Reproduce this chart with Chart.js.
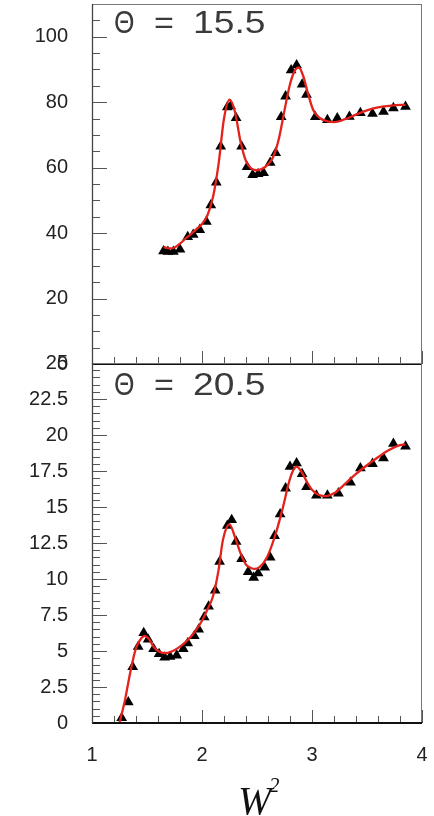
<!DOCTYPE html>
<html>
<head>
<meta charset="utf-8">
<script src="https://cdn.jsdelivr.net/npm/chart.js@4/dist/chart.umd.min.js"></script>
<style>
  html, body { margin: 0; padding: 0; background: #fff; }
  #wrap { position: relative; width: 434px; height: 816px; }
  #wrap canvas { position: absolute; left: 0; top: 0; }
</style>
</head>
<body>
<div id="wrap">
  <canvas id="panelTop" width="434" height="816"></canvas>
  <canvas id="panelBottom" width="434" height="816"></canvas>
</div>
<script>
// Theta = 15.5 : measured points
const w2Top = [1.65, 1.69, 1.74, 1.80, 1.87, 1.92, 1.98, 2.04, 2.08, 2.13, 2.17, 2.23, 2.26, 2.31, 2.36, 2.41, 2.46, 2.51, 2.56, 2.62, 2.67, 2.72, 2.76, 2.81, 2.86, 2.91, 2.95, 3.03, 3.14, 3.23, 3.34, 3.44, 3.55, 3.65, 3.74, 3.85];
const sigmaTop = [34.5, 34.3, 34.3, 35.0, 38.8, 39.5, 41.0, 43.5, 48.5, 55.5, 66.5, 78.5, 78.8, 75.2, 66.5, 60.2, 57.8, 58.1, 58.4, 61.5, 64.5, 75.5, 81.8, 89.8, 91.3, 85.4, 82.3, 75.5, 74.6, 75.1, 75.6, 76.7, 76.5, 77.1, 78.2, 78.6];
// Theta = 15.5 : fit curve
const fitW2Top = [1.65, 1.70, 1.75, 1.80, 1.85, 1.90, 1.95, 2.00, 2.05, 2.10, 2.15, 2.20, 2.25, 2.30, 2.35, 2.40, 2.45, 2.50, 2.55, 2.60, 2.65, 2.70, 2.75, 2.80, 2.85, 2.88, 2.92, 2.96, 3.01, 3.05, 3.10, 3.20, 3.30, 3.40, 3.50, 3.60, 3.70, 3.80, 3.85];
const fitTop = [35.8, 35.3, 35.6, 36.8, 38.3, 39.7, 41.2, 42.8, 45.5, 51.0, 61.0, 75.0, 80.8, 77.0, 68.0, 62.0, 59.7, 59.2, 59.7, 61.0, 63.5, 69.0, 77.5, 85.5, 90.0, 90.6, 88.0, 83.0, 77.7, 75.8, 74.6, 73.9, 74.8, 76.2, 77.5, 78.4, 78.9, 79.2, 79.2];

// Theta = 20.5 : measured points
const w2Bottom = [1.27, 1.33, 1.37, 1.42, 1.47, 1.51, 1.56, 1.61, 1.66, 1.71, 1.77, 1.83, 1.87, 1.93, 1.97, 2.02, 2.06, 2.12, 2.16, 2.23, 2.27, 2.31, 2.36, 2.42, 2.47, 2.51, 2.57, 2.62, 2.66, 2.71, 2.76, 2.80, 2.86, 2.91, 2.95, 3.04, 3.14, 3.24, 3.35, 3.44, 3.55, 3.65, 3.74, 3.85];
const sigmaBottom = [0.35, 1.45, 3.9, 5.3, 6.25, 5.8, 5.15, 4.8, 4.55, 4.6, 4.7, 5.15, 5.55, 6.05, 6.5, 7.35, 8.1, 9.2, 11.2, 13.7, 14.1, 12.6, 11.4, 10.5, 10.1, 10.4, 10.8, 11.5, 13.0, 14.5, 16.3, 17.8, 18.05, 17.3, 16.4, 15.8, 15.8, 15.95, 16.7, 17.7, 18.0, 18.4, 19.4, 19.2];
// Theta = 20.5 : fit curve
const fitW2Bottom = [1.25, 1.30, 1.35, 1.40, 1.45, 1.48, 1.52, 1.56, 1.60, 1.66, 1.72, 1.78, 1.84, 1.90, 1.95, 2.00, 2.05, 2.10, 2.15, 2.19, 2.25, 2.30, 2.35, 2.40, 2.45, 2.48, 2.52, 2.59, 2.66, 2.73, 2.79, 2.82, 2.86, 2.90, 2.95, 3.00, 3.06, 3.13, 3.20, 3.30, 3.40, 3.50, 3.60, 3.70, 3.80, 3.85];
const fitBottom = [0.0, 1.6, 3.6, 5.2, 5.9, 6.05, 5.8, 5.3, 5.0, 4.85, 4.95, 5.2, 5.55, 6.0, 6.5, 7.1, 7.9, 8.8, 10.6, 12.7, 13.8, 12.9, 11.8, 11.0, 10.75, 10.7, 10.8, 11.5, 12.9, 14.8, 16.7, 17.4, 17.8, 17.5, 16.8, 16.2, 15.85, 15.75, 15.95, 16.6, 17.3, 17.9, 18.45, 18.95, 19.3, 19.35];

// axis tick labels
const xTickLabels = [1, 2, 3, 4];
const yTicksTop = [0, 20, 40, 60, 80, 100];
const yTicksBottom = [0, 2.5, 5, 7.5, 10, 12.5, 15, 17.5, 20, 22.5, 25];

const panelLabels = ['\u0398 = 15.5', '\u0398 = 20.5'];
const xTitle = ['W', '2'];

const PAGE_H = 816;
const PLOT_LEFT = 92;
const PLOT_RIGHT = 422;
const TOP_Y0 = 4;
const SPLIT_Y = 364;
const BOTTOM_Y1 = 723;
const LABEL_FONT = { family: '"Liberation Sans", Arial, sans-serif', size: 20 };

const pts = (xs, ys) => xs.map((x, i) => ({ x, y: ys[i] }));

function range(a, b, step) {
  const out = [];
  const n = Math.round((b - a) / step);
  for (let i = 0; i <= n; i++) out.push(+(a + i * step).toFixed(4));
  return out;
}

// keep the plot frame where the layout padding puts it
function noLabelOverflow(s) {
  s.paddingTop = 0;
  s.paddingBottom = 0;
  s.paddingLeft = 0;
  s.paddingRight = 0;
}

// frame, inward ticks and in-plot labels
function framePlugin(cfg) {
  return {
    id: 'frame_' + cfg.name,
    afterDraw(chart) {
      const { ctx, chartArea: a, scales } = chart;
      const xs = scales.x, ys = scales.y;
      ctx.save();
      // tick marks on the left axis
      ctx.strokeStyle = '#555';
      ctx.lineWidth = 1;
      ctx.beginPath();
      range(ys.min, ys.max, cfg.yMinor).forEach(v => {
        const y = Math.round(ys.getPixelForValue(v)) + 0.5;
        const major = Math.abs(v / cfg.yMajor - Math.round(v / cfg.yMajor)) < 1e-6;
        ctx.moveTo(a.left, y);
        ctx.lineTo(a.left + (major ? 15 : 8), y);
      });
      // tick marks on the bottom edge
      range(1, 4, 0.2).forEach(v => {
        const x = Math.round(xs.getPixelForValue(v)) + 0.5;
        const major = Math.abs(v - Math.round(v)) < 1e-6;
        ctx.moveTo(x, a.bottom);
        ctx.lineTo(x, a.bottom - (major ? 13 : 7));
      });
      ctx.stroke();

      // frame
      ctx.strokeStyle = '#777';
      ctx.lineWidth = 1;
      ctx.strokeRect(a.left + 0.5, a.top + 0.5, a.right - a.left - 1, a.bottom - a.top - 1);
      ctx.strokeStyle = '#111';
      ctx.lineWidth = 2;
      ctx.beginPath();
      ctx.moveTo(a.left, a.bottom);
      ctx.lineTo(a.right, a.bottom);
      ctx.stroke();
      ctx.strokeStyle = '#444';
      ctx.lineWidth = 1.3;
      ctx.beginPath();
      ctx.moveTo(a.left + 0.5, a.top);
      ctx.lineTo(a.left + 0.5, a.bottom);
      ctx.stroke();

      // panel label
      ctx.fillStyle = '#3a3a3a';
      ctx.textBaseline = 'alphabetic';
      ctx.textAlign = 'left';
      const base = a.top + cfg.labelDy;
      const parts = cfg.label.split(' ');
      ctx.font = '31px "Liberation Sans", Arial, sans-serif';
      ctx.save();
      ctx.translate(a.left + 22, base);
      ctx.scale(0.85, 1);
      ctx.fillText(parts[0], 0, 0);
      ctx.restore();
      ctx.save();
      ctx.translate(a.left + 62, base);
      ctx.scale(1.1, 1);
      ctx.fillText(parts[1], 0, 0);
      ctx.restore();
      ctx.save();
      ctx.translate(a.left + 101, base);
      ctx.scale(1.2, 1);
      ctx.fillText(parts[2], 0, 0);
      ctx.restore();

      if (cfg.title) {
        ctx.fillStyle = '#111';
        ctx.font = 'italic 40px "Liberation Serif", "Times New Roman", serif';
        ctx.fillText(cfg.title[0], 238, 814);
        ctx.font = 'italic 21px "Liberation Serif", "Times New Roman", serif';
        ctx.fillText(cfg.title[1], 269, 792);
      }
      ctx.restore();
    }
  };
}

function makeChart(id, o) {
  return new Chart(document.getElementById(id), {
    type: 'scatter',
    data: {
      datasets: [
        {
          data: pts(o.fitX, o.fitY),
          showLine: true,
          borderColor: '#e3221b',
          borderWidth: 2.3,
          pointRadius: 0,
          cubicInterpolationMode: 'monotone',
          fill: false
        },
        {
          data: pts(o.x, o.y),
          showLine: false,
          pointStyle: 'triangle',
          pointRadius: 6.2,
          backgroundColor: '#000',
          borderColor: '#000',
          borderWidth: 0
        }
      ]
    },
    options: {
      responsive: false,
      animation: false,
      events: [],
      layout: {
        autoPadding: false,
        padding: { left: 0, right: 434 - PLOT_RIGHT, top: o.padTop, bottom: o.padBottom }
      },
      plugins: { legend: { display: false }, tooltip: { enabled: false } },
      scales: {
        x: {
          type: 'linear',
          min: 1,
          max: 4,
          display: o.showX,
          grid: { display: false, drawTicks: false, tickLength: 0 },
          border: { display: false },
          afterBuildTicks: s => { s.ticks = xTickLabels.map(v => ({ value: v })); },
          afterFit: s => {
            s.height = o.showX ? PAGE_H - BOTTOM_Y1 : 0;
            noLabelOverflow(s);
          },
          ticks: {
            padding: 20,
            color: '#222',
            font: LABEL_FONT,
            maxRotation: 0,
            callback: v => String(v)
          }
        },
        y: {
          type: 'linear',
          min: o.yMin,
          max: o.yMax,
          grid: { display: false, drawTicks: false, tickLength: 0 },
          border: { display: false },
          afterBuildTicks: s => { s.ticks = o.yTicks.map(v => ({ value: v })); },
          afterFit: s => {
            s.width = PLOT_LEFT;
            noLabelOverflow(s);
          },
          ticks: {
            padding: 24,
            color: '#222',
            font: LABEL_FONT,
            callback: v => String(v)
          }
        }
      }
    },
    plugins: [framePlugin(o.frame)]
  });
}

makeChart('panelTop', {
  x: w2Top, y: sigmaTop, fitX: fitW2Top, fitY: fitTop,
  yMin: 0, yMax: 110, yTicks: yTicksTop,
  padTop: TOP_Y0, padBottom: PAGE_H - SPLIT_Y, showX: false,
  frame: { name: 'top', yMinor: 5, yMajor: 20, label: panelLabels[0], labelDy: 29 }
});

makeChart('panelBottom', {
  x: w2Bottom, y: sigmaBottom, fitX: fitW2Bottom, fitY: fitBottom,
  yMin: 0, yMax: 25, yTicks: yTicksBottom,
  padTop: SPLIT_Y - 1, padBottom: 0, showX: true,
  frame: { name: 'bottom', yMinor: 0.5, yMajor: 2.5, label: panelLabels[1], labelDy: 32, title: xTitle }
});
</script>
</body>
</html>
